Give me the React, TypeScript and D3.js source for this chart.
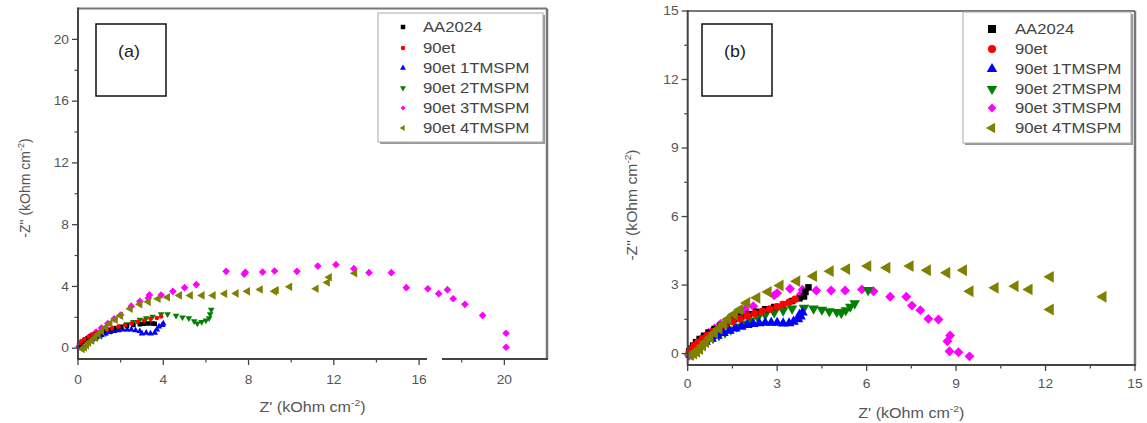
import React from "react";
import * as d3 from "d3";

type Pt = [number, number];

const seriesNames = ["AA2024", "90et", "90et 1TMSPM", "90et 2TMSPM", "90et 3TMSPM", "90et 4TMSPM"];
const seriesColors = ["#000000", "#ff0000", "#0000ff", "#008000", "#ff00ff", "#808000"];
const seriesShapes = ["square", "circle", "up", "down", "diamond", "left"];

// Panel (a)
const aAA2024: Pt[] = [[0.05,0.1],[0.1,0.25],[0.2,0.4],[0.3,0.5],[0.45,0.65],[0.6,0.78],[0.8,0.9],[1.0,1.0],[1.2,1.1],[1.45,1.2],[1.7,1.3],[2.0,1.38],[2.3,1.45],[2.6,1.5],[2.9,1.55],[3.1,1.58],[3.3,1.6],[3.5,1.6],[3.6,1.58]];
const a90et: Pt[] = [[0.05,0.3],[0.15,0.45],[0.3,0.6],[0.5,0.75],[0.7,0.9],[0.9,1.0],[1.1,1.1],[1.35,1.2],[1.6,1.3],[1.9,1.4],[2.2,1.5],[2.5,1.6],[2.8,1.7],[3.1,1.8],[3.4,1.9],[3.7,1.95],[3.9,2.05]];
const a1TMSPM: Pt[] = [[0.1,0.05],[0.2,0.15],[0.35,0.3],[0.5,0.45],[0.7,0.6],[0.9,0.75],[1.1,0.85],[1.3,0.95],[1.5,1.05],[1.7,1.1],[1.9,1.15],[2.1,1.2],[2.3,1.2],[2.5,1.2],[2.7,1.15],[2.9,1.1],[3.0,0.95],[3.2,1.0],[3.4,0.95],[3.6,1.0],[3.7,1.2],[3.8,1.4],[3.95,1.5],[4.0,1.6]];
const a2TMSPM: Pt[] = [[0.2,0.05],[0.35,0.2],[0.5,0.35],[0.7,0.5],[0.9,0.65],[1.1,0.8],[1.3,0.95],[1.55,1.1],[1.8,1.25],[2.0,1.4],[2.3,1.55],[2.6,1.7],[2.9,1.85],[3.2,1.95],[3.5,2.05],[3.9,2.2],[4.2,2.2],[4.6,2.1],[4.9,2.0],[5.2,1.95],[5.45,1.75],[5.6,1.6],[5.8,1.7],[6.0,1.8],[6.15,1.95],[6.2,2.2],[6.25,2.5]];
const a3TMSPM: Pt[] = [[0.05,0.1],[0.2,0.3],[0.4,0.55],[0.6,0.8],[0.85,1.05],[1.1,1.3],[1.4,1.6],[1.7,1.9],[2.0,2.15],[2.5,2.72],[2.9,3.03],[3.3,3.25],[3.35,3.45],[3.9,3.44],[4.45,3.68],[5.0,3.92],[5.55,4.12],[6.95,4.98],[7.8,4.8],[7.85,4.92],[8.66,4.93],[9.22,5.0],[10.27,4.98],[11.25,5.32],[12.1,5.41],[12.94,5.15],[13.65,4.89],[14.7,4.89],[15.4,3.92],[16.41,3.85],[16.92,3.53],[17.33,3.79],[17.6,3.2],[18.15,2.84],[18.98,2.12],[20.08,0.97],[20.08,0.06]];
const a4TMSPM: Pt[] = [[0.2,-0.05],[0.3,0.05],[0.4,0.2],[0.5,0.35],[0.65,0.5],[0.8,0.7],[0.95,0.9],[1.1,1.1],[1.3,1.35],[1.5,1.6],[1.75,1.85],[2.0,2.1],[2.45,2.55],[2.9,2.84],[3.3,3.0],[3.76,3.2],[4.2,3.3],[4.76,3.42],[5.27,3.42],[5.82,3.42],[6.34,3.42],[6.88,3.53],[7.42,3.55],[7.95,3.68],[8.55,3.8],[9.22,3.68],[9.3,3.75],[9.93,3.98],[11.17,3.85],[11.7,4.25],[11.79,4.6],[12.98,4.85]];

// Panel (b)
const bAA2024: Pt[] = [[0.05,0.1],[0.1,0.22],[0.18,0.35],[0.28,0.5],[0.4,0.64],[0.55,0.78],[0.7,0.92],[0.9,1.07],[1.1,1.22],[1.3,1.36],[1.55,1.5],[1.8,1.62],[2.05,1.73],[2.3,1.83],[2.6,1.94],[2.9,2.04],[3.2,2.14],[3.5,2.3],[3.75,2.42],[3.9,2.5],[3.95,2.7],[4.05,2.9]];
const b90et: Pt[] = [[0.05,0.05],[0.12,0.2],[0.22,0.35],[0.35,0.5],[0.5,0.65],[0.65,0.8],[0.85,0.95],[1.05,1.1],[1.25,1.25],[1.5,1.4],[1.75,1.52],[2.0,1.65],[2.25,1.75],[2.5,1.85],[2.75,1.95],[3.0,2.05],[3.2,2.15],[3.4,2.25],[3.6,2.38]];
const b1TMSPM: Pt[] = [[0.1,-0.05],[0.2,0.1],[0.3,0.25],[0.45,0.4],[0.6,0.52],[0.8,0.65],[1.0,0.78],[1.2,0.9],[1.4,1.0],[1.6,1.1],[1.8,1.18],[2.0,1.25],[2.2,1.3],[2.4,1.33],[2.6,1.35],[2.8,1.35],[3.0,1.35],[3.2,1.32],[3.4,1.33],[3.55,1.4],[3.7,1.5],[3.78,1.62],[3.85,1.8],[3.75,1.7]];
const b2TMSPM: Pt[] = [[0.15,-0.05],[0.25,0.1],[0.35,0.25],[0.5,0.4],[0.65,0.55],[0.85,0.68],[1.05,0.8],[1.25,0.92],[1.45,1.05],[1.65,1.18],[1.9,1.32],[2.1,1.45],[2.35,1.58],[2.6,1.7],[2.9,1.8],[3.2,1.88],[3.5,1.97],[3.9,2.0],[4.22,1.97],[4.5,1.92],[4.75,1.85],[5.0,1.82],[5.15,1.78],[5.3,1.9],[5.45,2.05],[5.6,2.2],[6.05,2.78]];
const b3TMSPM: Pt[] = [[0.05,-0.1],[0.1,0.1],[0.2,0.3],[0.35,0.5],[0.5,0.7],[0.7,0.9],[0.9,1.1],[1.1,1.3],[1.35,1.5],[1.6,1.72],[1.92,1.93],[2.2,2.07],[2.9,2.55],[3.0,2.65],[3.43,2.84],[3.8,2.6],[3.85,2.8],[4.31,2.76],[4.81,2.76],[5.28,2.76],[5.84,2.81],[6.23,2.73],[6.79,2.49],[7.33,2.49],[7.52,2.1],[7.8,1.9],[8.07,1.52],[8.41,1.49],[8.8,0.79],[8.71,0.54],[8.78,0.1],[9.08,0.06],[9.45,-0.12]];
const b4TMSPM: Pt[] = [[0.1,-0.05],[0.2,0.0],[0.3,0.08],[0.4,0.2],[0.5,0.35],[0.6,0.5],[0.75,0.7],[0.9,0.9],[1.05,1.1],[1.2,1.3],[1.35,1.5],[1.55,1.72],[1.75,1.92],[1.98,2.22],[2.32,2.44],[2.7,2.7],[3.1,2.98],[3.66,3.17],[4.22,3.39],[4.78,3.61],[5.33,3.7],[6.04,3.83],[6.68,3.76],[7.46,3.83],[8.04,3.65],[8.69,3.54],[9.25,3.65],[9.47,2.73],[10.31,2.88],[10.98,2.95],[11.45,2.81],[12.16,3.36],[12.16,1.93],[13.93,2.49]];

const aSeries = [aAA2024, a90et, a1TMSPM, a2TMSPM, a3TMSPM, a4TMSPM];
const bSeries = [bAA2024, b90et, b1TMSPM, b2TMSPM, b3TMSPM, b4TMSPM];

const aXMajor = [0, 4, 8, 12, 16, 20];
const aXMinor = [2, 6, 10, 14, 18];
const aYMajor = [0, 4, 8, 12, 16, 20];
const aYMinor = [2, 6, 10, 14, 18];
const bXMajor = [0, 3, 6, 9, 12, 15];
const bXMinor = [1.5, 4.5, 7.5, 10.5, 13.5];
const bYMajor = [0, 3, 6, 9, 12, 15];
const bYMinor = [1.5, 4.5, 7.5, 10.5, 13.5];

const FONT = "'Liberation Sans', Arial, sans-serif";
const SX = 1.15;

function markerPath(shape: string, s: number): { d: string; rot: number } {
  const area = s * s;
  switch (shape) {
    case "square":
      return { d: d3.symbol(d3.symbolSquare, area)()!, rot: 0 };
    case "circle":
      return { d: d3.symbol(d3.symbolCircle, area * 0.8)()!, rot: 0 };
    case "up":
      return { d: d3.symbol(d3.symbolTriangle, area * 0.75)()!, rot: 0 };
    case "down":
      return { d: d3.symbol(d3.symbolTriangle, area * 0.75)()!, rot: 180 };
    case "left":
      return { d: d3.symbol(d3.symbolTriangle, area * 0.75)()!, rot: -90 };
    case "diamond":
      return { d: d3.symbol(d3.symbolSquare, area * 0.6)()!, rot: 45 };
    default:
      return { d: d3.symbol(d3.symbolCircle, area)()!, rot: 0 };
  }
}

function SText(props: { x: number; y: number; anchor?: string; size: number; fill?: string; rotate?: number; sx?: number; children: React.ReactNode }) {
  const { x, y, anchor = "start", size, fill = "#555", rotate = 0, sx = SX, children } = props;
  return (
    <text
      transform={`translate(${x},${y}) rotate(${rotate}) scale(${sx},1)`}
      textAnchor={anchor}
      fontFamily={FONT}
      fontSize={size}
      fill={fill}
    >
      {children}
    </text>
  );
}

type PanelProps = {
  xDomain: [number, number];
  xRange: [number, number];
  yDomain: [number, number];
  yRange: [number, number];
  xMajor: number[];
  xMinor: number[];
  yMajor: number[];
  yMinor: number[];
  series: Pt[][];
  sizes: number[];
  legendBox: [number, number, number, number];
  legendSymX: number;
  legendTextX: number;
  legendRows: number[];
  legendSize: number;
  label: string;
  labelBox: [number, number, number, number];
  yTitleX: number;
  yTitleY: number;
  yTitleSx: number;
  xTitleY: number;
  xLabelY: number;
  drawOrder: number[];
};

function Panel(p: PanelProps) {
  const x = d3.scaleLinear().domain(p.xDomain).range(p.xRange);
  const y = d3.scaleLinear().domain(p.yDomain).range(p.yRange);
  const [x0, x1] = p.xRange;
  const [yb, yt] = p.yRange;
  const [lx, ly, lw, lh] = p.legendBox;
  const [bx, by, bw, bh] = p.labelBox;
  return (
    <g>
      {p.drawOrder.map((si) => {
        const m = markerPath(seriesShapes[si], p.sizes[si]);
        return (
          <g key={si}>
            {p.series[si].map((pt, i) => (
              <path
                key={i}
                d={m.d}
                transform={`translate(${x(pt[0])},${y(pt[1])}) rotate(${m.rot})`}
                fill={seriesColors[si]}
              />
            ))}
          </g>
        );
      })}
      <line x1={x0} x2={x1} y1={yt} y2={yt} stroke="#777" strokeWidth={2} />
      <line x1={x1} x2={x1} y1={yt} y2={yb} stroke="#777" strokeWidth={2.5} />
      <line x1={x0} x2={x1 + 1} y1={yb} y2={yb} stroke="#444" strokeWidth={2} />
      <line x1={x0} x2={x0} y1={yt - 1} y2={yb + 1} stroke="#444" strokeWidth={2} />
      {p.xMajor.map((v) => (
        <g key={"xm" + v}>
          <line x1={x(v)} x2={x(v)} y1={yb} y2={yb + 6} stroke="#444" strokeWidth={1.3} />
          <SText x={x(v)} y={p.xLabelY} anchor="middle" size={12}>{v}</SText>
        </g>
      ))}
      {p.xMinor.map((v) => (
        <line key={"xn" + v} x1={x(v)} x2={x(v)} y1={yb} y2={yb + 3.5} stroke="#444" strokeWidth={1.2} />
      ))}
      {p.yMajor.map((v) => (
        <g key={"ym" + v}>
          <line x1={x0} x2={x0 - 6} y1={y(v)} y2={y(v)} stroke="#444" strokeWidth={1.3} />
          <SText x={x0 - 9} y={y(v) + 4.3} anchor="end" size={12}>{v}</SText>
        </g>
      ))}
      {p.yMinor.map((v) => (
        <line key={"yn" + v} x1={x0} x2={x0 - 3.5} y1={y(v)} y2={y(v)} stroke="#444" strokeWidth={1.2} />
      ))}
      <SText x={(x0 + x1) / 2} y={p.xTitleY} anchor="middle" size={14}>
        Z' (kOhm cm<tspan dy={-6} fontSize={9}>-2</tspan><tspan dy={6}>)</tspan>
      </SText>
      <SText x={p.yTitleX} y={p.yTitleY} anchor="middle" size={14} rotate={-90} sx={p.yTitleSx}>
        -Z" (kOhm cm<tspan dy={-6} fontSize={9}>-2</tspan><tspan dy={6}>)</tspan>
      </SText>
      <rect x={bx} y={by} width={bw} height={bh} fill="#fff" stroke="#111" strokeWidth={1.5} />
      <SText x={bx + bw / 2 - 2} y={by + 33} anchor="middle" size={17} fill="#222" sx={1.05}>{p.label}</SText>
      <rect x={lx + 2} y={ly + 2} width={lw} height={lh} fill="#999" />
      <rect x={lx} y={ly} width={lw} height={lh} fill="#fff" stroke="#aaa" strokeWidth={1} />
      {seriesNames.map((name, i) => {
        const m = markerPath(seriesShapes[i], p.legendSize);
        return (
          <g key={name}>
            <path d={m.d} transform={`translate(${p.legendSymX},${p.legendRows[i]}) rotate(${m.rot})`} fill={seriesColors[i]} />
            <SText x={p.legendTextX} y={p.legendRows[i] + 5} size={14.5} fill="#444">{name}</SText>
          </g>
        );
      })}
    </g>
  );
}

export default function App() {
  return (
    <svg
      width={1147}
      height={423}
      style={{ position: "absolute", left: 0, top: 0, background: "#fff" }}
    >
      <rect x={0} y={0} width={1147} height={423} fill="#fff" />
      <Panel
        xDomain={[0, 22]}
        xRange={[78, 547]}
        yDomain={[-0.7, 22]}
        yRange={[359, 8.5]}
        xMajor={aXMajor}
        xMinor={aXMinor}
        yMajor={aYMajor}
        yMinor={aYMinor}
        series={aSeries}
        sizes={[4.5, 4.5, 5, 5, 7, 6.5]}
        legendBox={[378, 13, 165, 129]}
        legendSymX={403}
        legendTextX={423}
        legendRows={[27, 48, 68, 88, 108, 128]}
        legendSize={4.5}
        label="(a)"
        labelBox={[96, 24, 70, 72]}
        yTitleX={30}
        yTitleY={188}
        yTitleSx={1.0}
        xTitleY={412}
        xLabelY={384}
        drawOrder={[4, 3, 2, 0, 1, 5]}
      />
      <Panel
        xDomain={[0, 15]}
        xRange={[687.7, 1135]}
        yDomain={[-0.5, 15]}
        yRange={[365, 11]}
        xMajor={bXMajor}
        xMinor={bXMinor}
        yMajor={bYMajor}
        yMinor={bYMinor}
        series={bSeries}
        sizes={[6.5, 7.5, 8, 8, 9, 9]}
        legendBox={[963, 12, 168, 131]}
        legendSymX={992}
        legendTextX={1015}
        legendRows={[29, 49, 69, 89, 108, 128]}
        legendSize={8}
        label="(b)"
        labelBox={[702, 24, 70, 72]}
        yTitleX={637}
        yTitleY={205}
        yTitleSx={1.12}
        xTitleY={418}
        xLabelY={388}
        drawOrder={[4, 3, 2, 0, 1, 5]}
      />
      <rect x={427} y={352} width={15} height={8} fill="#fff" />
    </svg>
  );
}
